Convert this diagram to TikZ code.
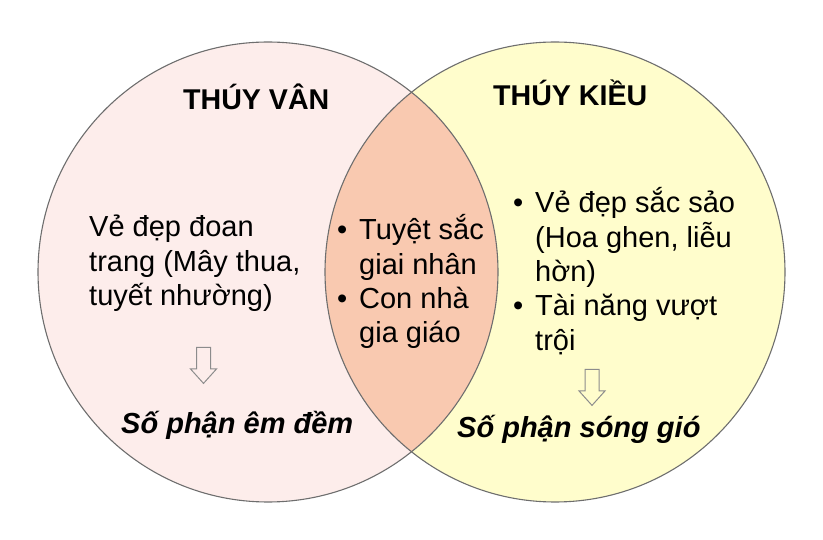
\documentclass[tikz,border=0pt]{standalone}
\usepackage{fontspec}
\setmainfont{Liberation Sans}
\usepackage{tikz}
\usetikzlibrary{shapes.arrows}

\definecolor{vanpink}{HTML}{FDEDEB}
\definecolor{kieuyellow}{HTML}{FFFDCC}
\definecolor{bothpeach}{HTML}{F9C9B0}
\definecolor{vennline}{HTML}{6E6E6E}
\definecolor{arrowgrey}{HTML}{8C8C8C}

\tikzset{
	venn/.style={draw=vennline,line width=1.1pt},
	txt/.style={anchor=base west,inner sep=0pt,font=\fontsize{29}{34.5}\selectfont},
	heading/.style={txt,font=\fontsize{28.6}{34}\selectfont\bfseries},
	fate/.style={txt,font=\fontsize{29}{34.5}\selectfont\bfseries\itshape},
	hollow/.style={single arrow,draw=arrowgrey,line width=1pt,inner sep=6.5pt,
		minimum height=36pt,single arrow head extend=6pt,
		single arrow tip angle=84,shape border rotate=270}
}
\newcommand{\bul}{\llap{•\hspace{12pt}}}

\begin{document}
\begin{tikzpicture}[x=1pt,y=-1pt]
	\useasboundingbox (0,0) rectangle (823,540);
	\coordinate (van) at (268,272);
	\coordinate (kieu) at (555,272);
	% the two sets and their overlap
	\fill[vanpink] (van) circle (230pt);
	\fill[kieuyellow] (kieu) circle (230pt);
	\begin{scope}
		\clip (van) circle (230pt);
		\fill[bothpeach] (kieu) circle (230pt);
	\end{scope}
	\draw[venn] (van) circle (230pt) (kieu) circle (230pt);
	% headings
	\node[heading] (vanT) at (183,109.5) {THÚY VÂN};
	\node[heading] (kieuT) at (493,106) {THÚY KIỀU};
	% texts
	\foreach \t [count=\i] in {{Vẻ đẹp đoan},{trang (Mây thua,},{tuyết nhường)}}
		\node[txt] (van\i) at (89,{237+34.5*(\i-1)}) {\t};
	\foreach \t [count=\i] in {{\bul Tuyệt sắc},{giai nhân},{\bul Con nhà},{gia giáo}}
		\node[txt] (both\i) at (359,{240+34.3*(\i-1)}) {\t};
	\foreach \t [count=\i] in {{\bul Vẻ đẹp sắc sảo},{(Hoa ghen, liễu},{hờn)},{\bul Tài năng vượt},{trội}}
		\node[txt] (kieu\i) at (535,{213+34.3*(\i-1)}) {\t};
	% arrows and fates
	\node[hollow] (arrV) at (203.5,361.5) {};
	\node[hollow] (arrK) at (592,383.5) {};
	\node[fate] (vanF) at (121,433) {Số phận êm đềm};
	\node[fate] (kieuF) at (457,437) {Số phận sóng gió};
\end{tikzpicture}
\end{document}
